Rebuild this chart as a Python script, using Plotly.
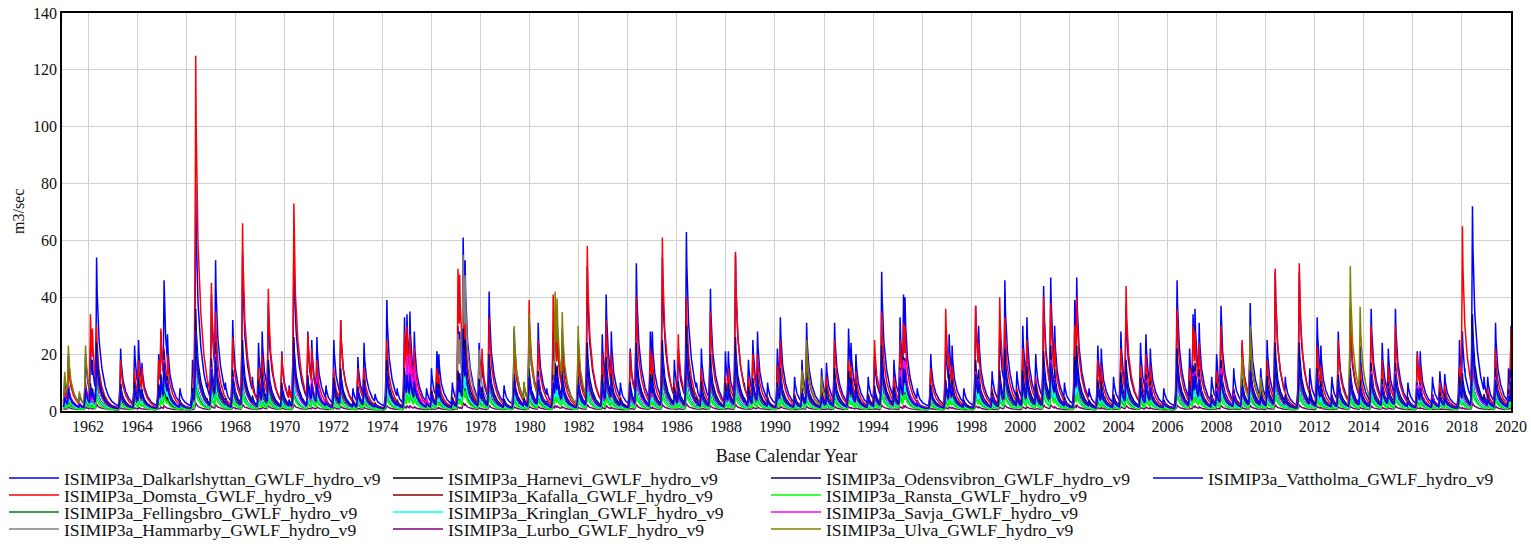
import numpy as np
import plotly.graph_objects as go

# ---------------- data ----------------
# timing (decimal year) of the flow events visible in the chart
EVENT_TIME = [
    1961.05, 1961.2, 1961.65, 1961.9, 1962.1, 1962.18, 1962.35, 1962.75,
    1963.33, 1963.9, 1964.06, 1964.2, 1964.88, 1964.97, 1965.1, 1965.24, 1965.75,
    1966.26, 1966.39, 1966.85, 1967.03, 1967.2, 1967.6, 1967.9, 1968.3, 1968.7,
    1968.95, 1969.1, 1969.35, 1969.9, 1970.2, 1970.39, 1970.96, 1971.12, 1971.33, 1971.7,
    1972.02, 1972.3, 1972.8, 1973.0, 1973.25, 1973.7, 1974.18, 1974.6, 1974.9, 1975.0, 1975.12, 1975.3, 1975.8,
    1976.0, 1976.22, 1976.3, 1976.85, 1977.08, 1977.15, 1977.29, 1977.37, 1977.94, 1978.06, 1978.35, 1978.96, 1979.37,
    1979.77, 1979.98, 1980.35, 1980.7, 1980.96, 1981.04, 1981.12, 1981.33, 1981.98, 1982.35, 1982.96, 1983.12, 1983.33, 1983.7,
    1984.1, 1984.35, 1984.92, 1985.0, 1985.41, 1985.9, 1986.06, 1986.39, 1986.8, 1987.0, 1987.37, 1987.98, 1988.1, 1988.39,
    1988.75, 1988.92, 1989.1, 1989.29, 1989.7, 1990.1, 1990.22, 1990.8, 1991.1, 1991.29, 1991.9, 1992.1, 1992.43,
    1993.0, 1993.1, 1993.3, 1993.8, 1994.06, 1994.35, 1994.85, 1995.1, 1995.24, 1995.3, 1995.8, 1996.35,
    1996.96, 1997.1, 1997.22, 1997.7, 1998.18, 1998.3, 1998.85, 1999.16, 1999.37, 1999.86, 2000.1, 2000.27, 2000.63,
    2000.95, 2001.24, 2001.4, 2001.8, 2002.22, 2002.3, 2002.8, 2003.16, 2003.3, 2003.8, 2004.1, 2004.31,
    2004.9, 2005.12, 2005.3, 2005.85, 2006.39, 2006.9, 2007.04, 2007.12, 2007.29, 2007.8, 2008.0, 2008.18,
    2008.7, 2009.04, 2009.37, 2009.8, 2010.06, 2010.39, 2010.8, 2011.37, 2011.8, 2012.1, 2012.25,
    2012.7, 2012.96, 2013.45, 2013.85, 2014.3, 2014.75, 2015.0, 2015.29, 2015.8, 2016.18, 2016.3,
    2016.8, 2017.1, 2017.3, 2017.9, 2018.02, 2018.12, 2018.43, 2018.9, 2019.05, 2019.37, 2019.9, 2020.0,
]

# event peaks (m3/sec) of the two largest series
DALKARLSHYTTAN_PEAK = [
    12, 20, 6, 20, 22, 18, 54, 7,
    22, 23, 25, 17, 20, 28, 46, 27, 8,
    18, 80, 10, 41, 53, 10, 32, 55, 12,
    24, 28, 38, 21, 9, 58, 28, 25, 26, 9,
    25, 32, 8, 19, 24, 6, 39, 8, 33, 34, 35, 28, 8,
    15, 21, 20, 10, 30, 28, 61, 53, 24, 18, 42, 9, 29,
    10, 33, 31, 8, 28, 35, 33, 29, 25, 51, 27, 41, 28, 10,
    22, 52, 28, 28, 54, 18, 22, 63, 10, 22, 43, 21, 21, 55,
    10, 18, 25, 28, 10, 22, 33, 12, 18, 31, 15, 17, 31,
    29, 24, 20, 12, 19, 49, 18, 33, 41, 40, 8, 20,
    24, 27, 23, 8, 37, 30, 14, 30, 46, 14, 30, 33, 20,
    44, 47, 30, 10, 39, 47, 8, 23, 22, 12, 28, 37,
    24, 27, 22, 8, 46, 22, 34, 36, 31, 12, 20, 37,
    15, 24, 38, 15, 25, 49, 12, 49, 15, 33, 23,
    12, 28, 32, 23, 36, 24, 22, 36, 10, 21, 21,
    12, 14, 13, 25, 28, 15, 72, 12, 12, 31, 15, 30,
]
DOMSTA_PEAK = [
    8, 18, 3, 10, 34, 29, 30, 3,
    18, 14, 18, 15, 18, 29, 22, 20, 4,
    6, 125, 5, 45, 35, 5, 26, 66, 6,
    15, 20, 43, 20, 8, 73, 27, 22, 18, 5,
    15, 32, 4, 15, 15, 3, 25, 4, 28, 30, 27, 22, 4,
    8, 15, 13, 5, 50, 48, 35, 33, 20, 22, 33, 4, 23,
    5, 39, 25, 4, 41, 30, 28, 22, 20, 58, 20, 32, 20, 5,
    21, 40, 22, 20, 61, 10, 27, 40, 5, 15, 35, 12, 15, 56,
    5, 12, 20, 20, 5, 16, 25, 6, 14, 22, 8, 12, 25,
    18, 16, 14, 6, 25, 35, 12, 25, 31, 30, 4, 15,
    36, 20, 16, 4, 37, 24, 8, 40, 33, 8, 22, 25, 12,
    40, 38, 24, 5, 30, 40, 4, 18, 16, 6, 22, 44,
    16, 20, 16, 4, 36, 15, 30, 28, 24, 6, 14, 30,
    8, 25, 28, 8, 18, 50, 6, 52, 8, 23, 16,
    6, 25, 36, 16, 30, 18, 16, 30, 5, 20, 16,
    6, 10, 9, 15, 65, 29, 28, 6, 8, 22, 8, 29,
]

# annual maximum flows (1961 ... 2019) of the other stations
YEARS = list(range(1961, 2020))
VATTHOLMA_ANNUAL = [8, 20, 8, 11, 17, 28, 19, 20, 14, 21, 10, 12, 9, 14, 13, 8, 22, 15, 12, 11,
                    13, 18, 15, 19, 20, 22, 15, 20, 11, 12, 11, 11, 11, 18, 15, 9, 10, 13, 17, 16,
                    17, 17, 8, 13, 10, 17, 13, 13, 14, 18, 18, 12, 12, 13, 13, 8, 9, 26, 11]
ODENSVIBRON_ANNUAL = [9, 24, 10, 13, 21, 36, 24, 25, 18, 26, 12, 15, 11, 18, 17, 10, 29, 20, 15, 14,
                      17, 24, 19, 24, 25, 30, 20, 26, 13, 15, 14, 15, 14, 23, 19, 11, 13, 18, 22, 21,
                      23, 23, 11, 18, 13, 22, 17, 18, 18, 24, 24, 15, 15, 17, 17, 10, 12, 34, 15]
HAMMARBY_ANNUAL = [9, 22, 10, 12, 19, 32, 22, 22, 16, 24, 11, 14, 10, 16, 15, 9, 55, 18, 14, 13,
                   15, 21, 17, 21, 22, 26, 18, 22, 12, 14, 13, 13, 12, 20, 17, 10, 11, 15, 19, 18,
                   20, 20, 10, 15, 11, 19, 15, 15, 16, 20, 20, 14, 13, 15, 15, 9, 10, 29, 13]
KAFALLA_ANNUAL = [6, 16, 7, 8, 14, 24, 16, 17, 11, 17, 8, 10, 7, 12, 11, 6, 18, 13, 10, 9,
                  11, 15, 12, 16, 16, 19, 13, 17, 8, 10, 9, 9, 9, 15, 12, 7, 8, 11, 14, 13,
                  14, 14, 7, 11, 8, 14, 11, 11, 11, 15, 15, 10, 10, 11, 11, 6, 8, 22, 9]
SAVJA_ANNUAL = [9, 16, 8, 10, 18, 25, 20, 18, 14, 16, 12, 11, 9, 14, 20, 8, 22, 14, 12, 12,
                13, 16, 14, 15, 18, 20, 14, 16, 10, 12, 11, 11, 10, 16, 18, 9, 10, 14, 16, 15,
                18, 16, 8, 13, 11, 14, 14, 15, 14, 16, 16, 12, 12, 14, 14, 9, 9, 20, 12]
ULVA_ANNUAL = [23, 18, 8, 10, 16, 28, 18, 19, 13, 20, 9, 11, 8, 14, 12, 7, 21, 15, 34, 11,
               42, 18, 14, 18, 19, 22, 15, 19, 10, 12, 25, 11, 10, 17, 14, 8, 9, 13, 16, 15,
               16, 16, 8, 13, 9, 16, 13, 13, 30, 17, 17, 12, 51, 13, 13, 7, 9, 25, 11]
HARNEVI_ANNUAL = [4, 10, 5, 6, 10, 15, 12, 10, 8, 10, 6, 7, 5, 8, 10, 5, 14, 9, 7, 7,
                  9, 10, 9, 10, 11, 12, 9, 11, 6, 8, 7, 7, 6, 10, 10, 5, 6, 8, 10, 12,
                  13, 11, 5, 8, 6, 10, 9, 9, 8, 10, 10, 8, 8, 9, 9, 5, 6, 13, 7]
FELLINGSBRO_ANNUAL = [4, 8, 4, 5, 7, 11, 9, 8, 6, 8, 5, 6, 4, 7, 8, 4, 10, 7, 6, 6,
                      8, 8, 7, 8, 9, 10, 7, 9, 5, 6, 6, 6, 5, 8, 8, 4, 5, 7, 8, 9,
                      10, 9, 4, 7, 5, 8, 7, 8, 7, 8, 8, 6, 6, 7, 7, 4, 5, 10, 6]
KRINGLAN_ANNUAL = [5, 9, 4, 6, 12, 14, 10, 9, 7, 10, 6, 6, 5, 8, 9, 5, 14, 8, 7, 7,
                   8, 9, 8, 9, 10, 11, 8, 10, 6, 7, 6, 7, 6, 9, 10, 5, 6, 8, 9, 9,
                   11, 10, 5, 8, 6, 9, 8, 8, 8, 9, 9, 7, 7, 8, 8, 5, 6, 12, 7]
RANSTA_ANNUAL = [3, 5, 3, 4, 6, 8, 6, 6, 4, 6, 4, 4, 3, 5, 6, 3, 8, 5, 4, 4,
                 5, 6, 5, 6, 6, 7, 5, 6, 4, 4, 4, 4, 4, 6, 6, 3, 4, 5, 6, 6,
                 7, 6, 3, 5, 4, 6, 5, 5, 5, 6, 6, 4, 4, 5, 5, 3, 4, 8, 4]
LURBO_ANNUAL = [1.5, 2.5, 1.2, 1.5, 2, 3, 2.5, 2.5, 2, 2.5, 1.5, 1.8, 1.3, 2, 2, 1.2, 3, 2, 1.8, 1.7,
                2, 2.4, 2, 2.4, 2.5, 2.8, 2, 2.5, 1.5, 1.8, 1.7, 1.7, 1.6, 2.3, 2, 1.3, 1.5, 2, 2.2, 2.2,
                2.3, 2.3, 1.3, 2, 1.5, 2.2, 1.9, 2, 2, 2.3, 2.3, 1.8, 1.8, 1.9, 1.9, 1.2, 1.4, 3, 1.7]

# low-flow level of each station (m3/sec)
BASEFLOW = {
    "Dalkarlshyttan": 1.2, "Domsta": 0.8, "Fellingsbro": 0.3, "Hammarby": 0.6,
    "Harnevi": 0.3, "Kafalla": 0.5, "Kringlan": 0.4, "Lurbo": 0.4,
    "Odensvibron": 0.7, "Ransta": 0.3, "Savja": 0.6, "Ulva": 0.6, "Vattholma": 0.6,
}

STATIONS = ["Dalkarlshyttan", "Domsta", "Fellingsbro", "Hammarby", "Harnevi", "Kafalla",
            "Kringlan", "Lurbo", "Odensvibron", "Ransta", "Savja", "Ulva", "Vattholma"]
COLORS = {
    "Dalkarlshyttan": "#0000FF", "Domsta": "#FF0000", "Fellingsbro": "#008000",
    "Hammarby": "#808080", "Harnevi": "#000000", "Kafalla": "#8B0000",
    "Kringlan": "#00FFFF", "Lurbo": "#800080", "Odensvibron": "#00008B",
    "Ransta": "#00FF00", "Savja": "#FF00FF", "Ulva": "#808000", "Vattholma": "#0000FF",
}
ANNUAL = {
    "Vattholma": VATTHOLMA_ANNUAL, "Fellingsbro": FELLINGSBRO_ANNUAL,
    "Hammarby": HAMMARBY_ANNUAL, "Harnevi": HARNEVI_ANNUAL, "Kafalla": KAFALLA_ANNUAL,
    "Kringlan": KRINGLAN_ANNUAL, "Lurbo": LURBO_ANNUAL, "Odensvibron": ODENSVIBRON_ANNUAL,
    "Ransta": RANSTA_ANNUAL, "Savja": SAVJA_ANNUAL, "Ulva": ULVA_ANNUAL,
}

# ---------------- hydrograph construction ----------------
ev_t = np.array(EVENT_TIME, dtype=float)
ev_b = np.array(DALKARLSHYTTAN_PEAK, dtype=float)
ev_d = np.array(DOMSTA_PEAK, dtype=float)
assert len(ev_t) == len(ev_b) == len(ev_d)

grid = np.arange(1961.0, 2020.0001, 2.0 / 365.25)
t = np.unique(np.concatenate([grid, ev_t]))
t = t[(t >= 1961.0) & (t <= 2020.0)]

ev_year = np.minimum(np.floor(ev_t).astype(int), 2019)
year_max = {y: ev_b[ev_year == y].max() for y in YEARS}


def hydrograph(peaks, base):
    q = np.zeros_like(t)
    for tk, pk in zip(ev_t, peaks):
        dt = t - tk
        pos = np.clip(dt, 0, None)
        neg = np.clip(dt, None, 0)
        shape = np.where(dt >= 0,
                         0.3 * np.exp(-pos / 0.03) + 0.7 * np.exp(-pos / 0.22),
                         np.exp(neg / 0.03))
        q = np.maximum(q, max(pk - base, 0) * shape)
    return base + q


series = {}
for st in STATIONS:
    if st == "Dalkarlshyttan":
        peaks = ev_b
    elif st == "Domsta":
        peaks = ev_d
    else:
        ann = ANNUAL[st]
        peaks = np.array([ann[y - 1961] * v / year_max[y] for y, v in zip(ev_year, ev_b)])
    series[st] = hydrograph(peaks, BASEFLOW[st])

# ---------------- figure ----------------
FONT = "'Liberation Serif', 'Times New Roman', Times, serif"
fig = go.Figure()

COL_X = [8, 392, 770, 1152]
ROW_Y = [478, 495, 512, 529]
W, H = 1531, 544

for i, st in enumerate(STATIONS):
    col, row = (i // 4, i % 4) if i < 12 else (3, 0)
    lname = "legend" if i == 0 else f"legend{i + 1}"
    fig.add_trace(go.Scatter(
        x=t, y=series[st], mode="lines",
        name=f"ISIMIP3a_{st}_GWLF_hydro_v9",
        line=dict(color=COLORS[st], width=1.5),
        legend=lname,
    ))
    fig.update_layout(**{lname: dict(
        x=(COL_X[col] - 4) / W, xref="container", xanchor="left",
        y=1 - ROW_Y[row] / H, yref="container", yanchor="middle",
        bgcolor="rgba(0,0,0,0)", borderwidth=0, itemwidth=50,
        font=dict(family=FONT, size=17.6, color="#111111"),
        itemclick=False, itemdoubleclick=False,
    )})

fig.update_layout(
    width=W, height=H,
    margin=dict(l=62, r=20, t=13, b=133, autoexpand=False),
    paper_bgcolor="white", plot_bgcolor="white",
    font=dict(family=FONT, size=16, color="#111111"),
    showlegend=True,
    xaxis=dict(
        range=[1960.94, 2020.0], tickmode="array", tickvals=list(range(1962, 2021, 2)),
        showgrid=True, gridcolor="#D0D0D0", gridwidth=1,
        showline=True, linecolor="#000000", linewidth=1.5, mirror=True,
        ticks="", zeroline=False,
        title=dict(text="Base Calendar Year", font=dict(family=FONT, size=18)),
        tickfont=dict(family=FONT, size=16),
    ),
    yaxis=dict(
        range=[0, 140], tickmode="linear", tick0=0, dtick=20,
        showgrid=True, gridcolor="#D0D0D0", gridwidth=1,
        showline=True, linecolor="#000000", linewidth=1.5, mirror=True,
        ticks="", zeroline=False,
        tickfont=dict(family=FONT, size=16),
    ),
    annotations=[dict(
        text="m3/sec", textangle=-90, showarrow=False,
        xref="paper", yref="paper", x=(18 - 62) / 1449, y=0.5,
        xanchor="center", yanchor="middle",
        font=dict(family=FONT, size=16, color="#111111"),
    )],
)

fig.write_html("out.html")
